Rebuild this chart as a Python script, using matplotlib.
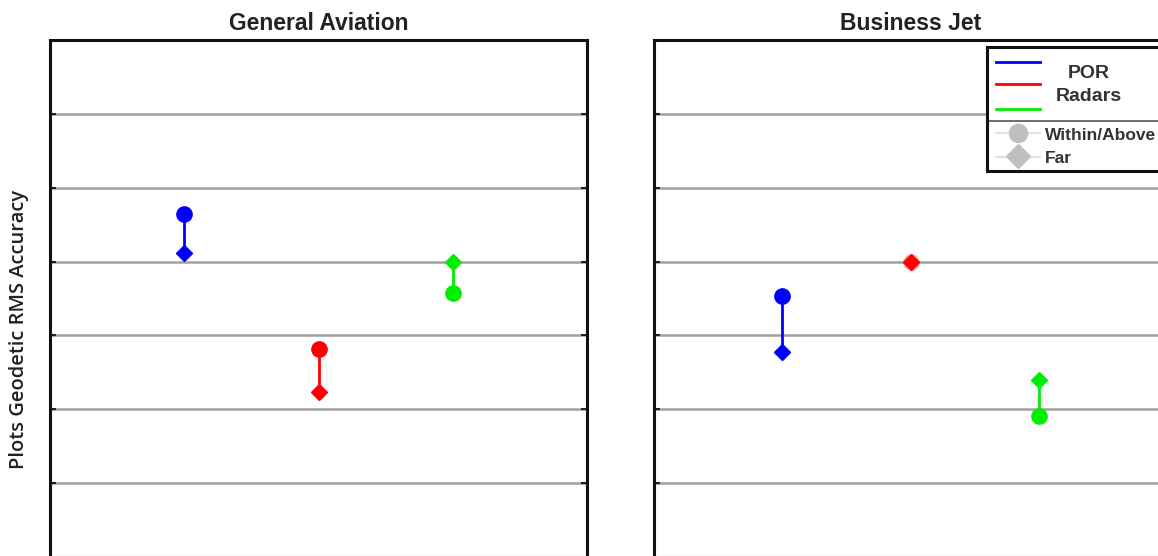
import matplotlib.pyplot as plt
from matplotlib.lines import Line2D

# data (arbitrary units)
panels = ['General Aviation', 'Business Jet']
series = ['POR', 'Radars', 'Radars2']
colors = ['#0000ff', '#ff0000', '#00ee00']
xpos = [1, 2, 3]
within_vals = {'General Aviation': [4.65, 2.82, 3.57],
               'Business Jet': [3.54, 4.00, 1.91]}
far_vals = {'General Aviation': [4.11, 2.23, 3.99],
            'Business Jet': [2.78, 4.00, 2.39]}
yticks = [1, 2, 3, 4, 5, 6]

W, H = 1158, 556
fig = plt.figure(figsize=(W / 100, H / 100), dpi=100)
plt.rcParams['font.family'] = ['Liberation Sans', 'DejaVu Sans']

ax_pos = [[50 / W, -1 / H, 537 / W, 517 / H],
          [653.5 / W, -1 / H, 514 / W, 517 / H]]

for i, name in enumerate(panels):
    ax = fig.add_axes(ax_pos[i])
    ax.set_xlim(0, 4)
    ax.set_ylim(0, 7)
    for y in yticks:
        ax.axhline(y, color='#a0a0a0', lw=1.8, zorder=0)
    for j in range(3):
        w = within_vals[name][j]
        f = far_vals[name][j]
        ax.plot([xpos[j], xpos[j]], [w, f], color=colors[j], lw=2, zorder=2)
        # where both markers coincide the circle is mostly hidden
        a = 0.25 if w == f else 1.0
        ax.plot(xpos[j], w, 'o', color=colors[j], ms=11, alpha=a, zorder=3)
        ax.plot(xpos[j], f, 'D', color=colors[j], ms=8, zorder=4)
    ax.set_xticks([])
    ax.set_yticks(yticks)
    ax.set_yticklabels([])
    ax.tick_params(axis='y', direction='in', length=4, width=1.5, left=True, right=True, color='#222222')
    for s in ax.spines.values():
        s.set_linewidth(2.2)
        s.set_color('#111111')
    ax.set_title(name, fontsize=16.5, fontweight='bold', color='#222222', pad=7)
    if i == 0:
        ax.set_ylabel('Plots Geodetic RMS Accuracy', fontsize=14.5, family='Open Sans',
                      fontweight='semibold', color='#222222')
        ax.yaxis.set_label_coords(-21 / 537, 0.440)

# custom legend box
lg = fig.add_axes([987 / W, 1 - 171 / H, (1180 - 987) / W, 124 / H])
lg.set_xlim(987, 1180)
lg.set_ylim(171, 47)
lg.set_xticks([])
lg.set_yticks([])
for s in lg.spines.values():
    s.set_linewidth(2.2)
    s.set_color('#111111')
for yy, c in zip([62, 84, 109], colors):
    lg.add_line(Line2D([996, 1040], [yy, yy], color=c, lw=2))
lg.text(1089, 73, 'POR', ha='center', va='center', fontsize=14, fontweight='bold', color='#333333')
lg.text(1089, 96, 'Radars', ha='center', va='center', fontsize=14, fontweight='bold', color='#333333')
lg.add_line(Line2D([987, 1180], [121, 121], color='#555555', lw=1.2))
lg.add_line(Line2D([996, 1040], [133, 133], color='#e0e0e0', lw=1.5))
lg.add_line(Line2D([996, 1040], [157, 157], color='#e0e0e0', lw=1.5))
lg.plot(1018, 133, 'o', color='#bfbfbf', ms=13)
lg.plot(1018, 156, 'D', color='#bfbfbf', ms=12)
lg.text(1045, 135, 'Within/Above', ha='left', va='center', fontsize=12.5, fontweight='bold', color='#333333')
lg.text(1045, 158, 'Far', ha='left', va='center', fontsize=12.5, fontweight='bold', color='#333333')

fig.savefig('out.png', dpi=100)
